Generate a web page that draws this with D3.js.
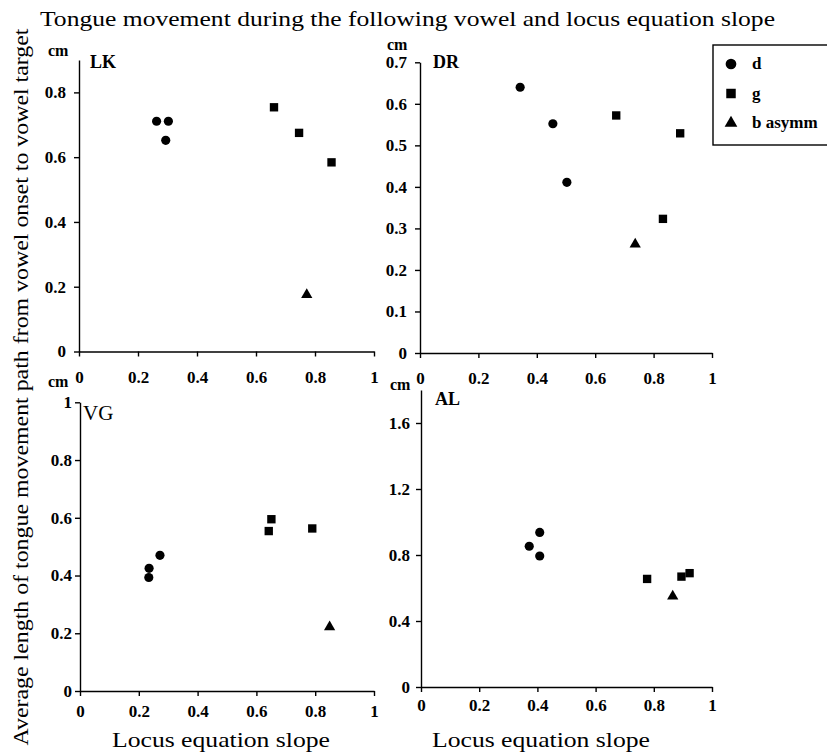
<!DOCTYPE html>
<html>
<head>
<meta charset="utf-8">
<script src="https://cdn.jsdelivr.net/npm/d3@7"></script>
<style>
  html, body { margin: 0; padding: 0; background: #fff; }
  svg, svg text { font-family: "Liberation Serif", "Times New Roman", Times, serif; }
  .tick text { font-weight: bold; font-size: 17px; fill: #000; font-family: "Liberation Serif", "Times New Roman", Times, serif; }
  .domain, .tick line { stroke: #000; stroke-width: 1.4; }
</style>
</head>
<body>
<svg id="chart"></svg>
<script>
// 데이터: [locus equation slope, path length cm]
const LK_d = [[0.263, 0.711], [0.303, 0.711], [0.294, 0.652]];
const LK_g = [[0.661, 0.754], [0.746, 0.675], [0.856, 0.584]];
const LK_b = [[0.772, 0.175]];

const DR_d = [[0.343, 0.640], [0.455, 0.552], [0.503, 0.411]];
const DR_g = [[0.672, 0.572], [0.891, 0.529], [0.832, 0.323]];
const DR_b = [[0.737, 0.262]];

const VG_d = [[0.235, 0.425], [0.272, 0.470], [0.234, 0.393]];
const VG_g = [[0.651, 0.595], [0.642, 0.554], [0.790, 0.563]];
const VG_b = [[0.849, 0.222]];

const AL_d = [[0.372, 0.853], [0.408, 0.937], [0.408, 0.794]];
const AL_g = [[0.777, 0.655], [0.895, 0.669], [0.923, 0.690]];
const AL_b = [[0.865, 0.550]];

const xTicks = [0, 0.2, 0.4, 0.6, 0.8, 1];
const LK_yTicks = [0, 0.2, 0.4, 0.6, 0.8];
const DR_yTicks = [0, 0.1, 0.2, 0.3, 0.4, 0.5, 0.6, 0.7];
const VG_yTicks = [0, 0.2, 0.4, 0.6, 0.8, 1];
const AL_yTicks = [0, 0.4, 0.8, 1.2, 1.6];

const seriesNames = ['d', 'g', 'b asymm'];

const width = 827;
const height = 754;

const svg = d3.select('#chart')
  .attr('width', width)
  .attr('height', height);

// 패널 레이아웃
const panels = [
  { name: 'LK', d: LK_d, g: LK_g, b: LK_b, yTicks: LK_yTicks, yMax: 0.9,
    left: 79, right: 374, top: 60, bottom: 351.5, xPad: 14, yPad: 8,
    nameX: 90, nameY: 68, nameSize: 18, cmX: 48, cmY: 56 },
  { name: 'DR', d: DR_d, g: DR_g, b: DR_b, yTicks: DR_yTicks, yMax: 0.7,
    left: 420, right: 712, top: 62.3, bottom: 353, xPad: 14, yPad: 8,
    nameX: 433, nameY: 68, nameSize: 18, cmX: 387, cmY: 50 },
  { name: 'VG', d: VG_d, g: VG_g, b: VG_b, yTicks: VG_yTicks, yMax: 1,
    left: 80, right: 374, top: 402.3, bottom: 691, xPad: 9, yPad: 3,
    nameX: 83, nameY: 420, nameSize: 21, cmX: 48, cmY: 387 },
  { name: 'AL', d: AL_d, g: AL_g, b: AL_b, yTicks: AL_yTicks, yMax: 1.8,
    left: 421, right: 712, top: 390, bottom: 687, xPad: 7, yPad: 6,
    nameX: 435, nameY: 405, nameSize: 18, cmX: 390, cmY: 390 }
];

const symbolTypes = [d3.symbolCircle, d3.symbolSquare, d3.symbolTriangle];
const symbolSizes = [66, 70, 55];

panels.forEach(p => {
  const x = d3.scaleLinear().domain([0, 1]).range([p.left, p.right]);
  const y = d3.scaleLinear().domain([0, p.yMax]).range([p.bottom, p.top]);

  const g = svg.append('g').attr('class', 'panel');

  // 축
  g.append('g')
    .attr('transform', `translate(0,${p.bottom})`)
    .call(d3.axisBottom(x)
      .tickValues(xTicks)
      .tickFormat(d3.format('~g'))
      .tickSize(5)
      .tickSizeOuter(0)
      .tickPadding(p.xPad))
    .attr('font-family', null);

  g.append('g')
    .attr('transform', `translate(${p.left},0)`)
    .call(d3.axisLeft(y)
      .tickValues(p.yTicks)
      .tickFormat(d3.format('~g'))
      .tickSize(5)
      .tickSizeOuter(0)
      .tickPadding(p.yPad))
    .attr('font-family', null);

  // 단위, 패널 이름
  g.append('text')
    .attr('x', p.cmX)
    .attr('y', p.cmY)
    .attr('font-size', 16)
    .attr('font-weight', 'bold')
    .text('cm');

  g.append('text')
    .attr('x', p.nameX)
    .attr('y', p.nameY)
    .attr('font-size', p.nameSize)
    .attr('font-weight', p.name === 'VG' ? 'normal' : 'bold')
    .text(p.name);

  // 점
  [p.d, p.g, p.b].forEach((pts, i) => {
    g.selectAll(null)
      .data(pts)
      .enter()
      .append('path')
      .attr('d', d3.symbol().type(symbolTypes[i]).size(symbolSizes[i]))
      .attr('transform', d => `translate(${x(d[0])},${y(d[1])})`)
      .attr('fill', '#000');
  });
});

// 범례
const legend = svg.append('g');
legend.append('rect')
  .attr('x', 713)
  .attr('y', 45)
  .attr('width', 130)
  .attr('height', 100)
  .attr('fill', 'none')
  .attr('stroke', '#000')
  .attr('stroke-width', 1.4);

seriesNames.forEach((name, i) => {
  const ly = 64 + i * 29.5;
  legend.append('path')
    .attr('d', d3.symbol().type(symbolTypes[i]).size([90, 90, 70][i]))
    .attr('transform', `translate(731,${ly})`)
    .attr('fill', '#000');
  legend.append('text')
    .attr('x', 752)
    .attr('y', ly + 5)
    .attr('font-size', 17)
    .attr('font-weight', 'bold')
    .text(name);
});

// 제목, 축 제목
svg.append('text')
  .attr('x', 40)
  .attr('y', 26)
  .attr('font-size', 21)
  .attr('textLength', 735)
  .attr('lengthAdjust', 'spacingAndGlyphs')
  .text('Tongue movement during the following vowel and locus equation slope');

svg.append('text')
  .attr('transform', 'translate(28,387) rotate(-90)')
  .attr('text-anchor', 'middle')
  .attr('font-size', 21)
  .attr('textLength', 717)
  .attr('lengthAdjust', 'spacingAndGlyphs')
  .text('Average length of tongue movement path from vowel onset to vowel target');

[[112, 'Locus equation slope'], [432, 'Locus equation slope']].forEach(([lx, t]) => {
  svg.append('text')
    .attr('x', lx)
    .attr('y', 747)
    .attr('font-size', 21)
    .attr('textLength', 218)
    .attr('lengthAdjust', 'spacingAndGlyphs')
    .text(t);
});
</script>
</body>
</html>
